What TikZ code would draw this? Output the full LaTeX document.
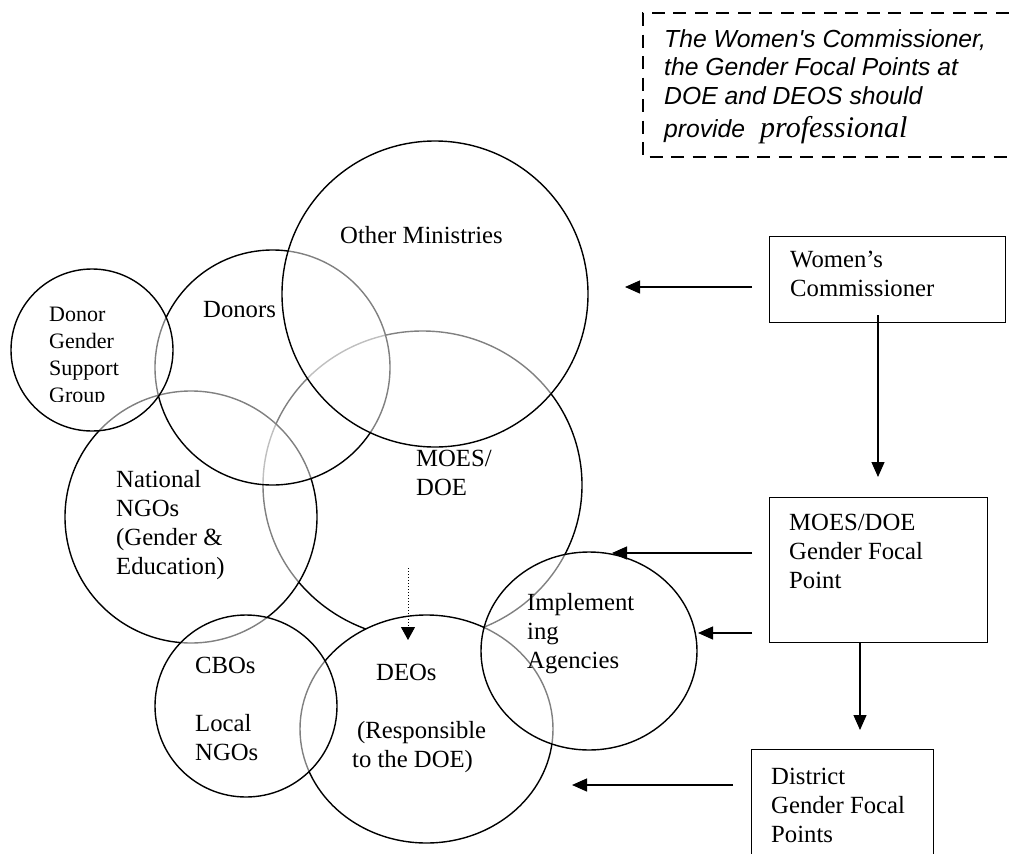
\documentclass[tikz,border=0pt]{standalone}
\usepackage{fontspec}
\setmainfont{Liberation Serif}
\newfontfamily\arialfont{Liberation Sans}
\usetikzlibrary{arrows.meta}
\newcommand{\apos}{\symbol{39}}
\begin{document}
\begin{tikzpicture}[x=1pt,y=-1pt,
  ring/.style={draw=black,line width=1.4pt,fill=white,fill opacity=0.5},
  solidring/.style={draw=black,line width=1.4pt,fill=white},
  lbl/.style={anchor=north west,inner sep=0pt,align=left,font=\fontsize{24.7}{29}\selectfont},
  smalllbl/.style={anchor=north west,inner sep=0pt,align=left,font=\fontsize{22}{27}\selectfont},
  notelbl/.style={anchor=north west,inner sep=0pt,align=left,font=\arialfont\itshape\fontsize{24.7}{28.5}\selectfont},
  boxstyle/.style={draw=black,line width=1.3pt,inner sep=0pt,anchor=north west},
  arr/.style={line width=1.3pt,-{Triangle[length=15pt,width=13pt]}},
  dotarr/.style={line width=1pt,dotted,-{Triangle[length=13pt,width=14pt]}},
  notebox/.style={line width=1.3pt,dash pattern=on 13pt off 8.5pt}
]
\useasboundingbox (0,0) rectangle (1012,854);

% circles, bottom to top
\draw[solidring] (422.5,485) ellipse [x radius=159.5pt, y radius=154pt];   % MOES/DOE
\draw[solidring] (426.5,729) ellipse [x radius=126.5pt, y radius=114pt];   % DEOs
\draw[ring] (191,517) circle [radius=126pt];                               % National NGOs
\draw[ring] (272.5,367.5) circle [radius=117.5pt];                         % Donors
\draw[ring] (435,294) circle [radius=153pt];                               % Other Ministries
\draw[ring] (92,350) circle [radius=81pt];                                 % Donor Gender Support Group
\draw[ring] (246,706) circle [radius=91pt];                                % CBOs
\draw[ring] (589,651) ellipse [x radius=108pt, y radius=99pt];             % Implementing Agencies

% note box (dashed)
\draw[notebox] (1030,13) -- (643,13) -- (643,157) -- (1030,157);
\node[notelbl] (note) at (664,27) {\strut The Women\apos s Commissioner,\\ the Gender Focal Points at\\ DOE and DEOS should\\[4.5pt] provide\hspace*{15pt}{\rmfamily\itshape\fontsize{30}{34}\selectfont professional}};

% boxes
\node[boxstyle,minimum width=236pt,minimum height=86pt] (wcbox) at (769,236) {};
\node[boxstyle,minimum width=218pt,minimum height=145pt] (gfpbox) at (769,497) {};
\node[boxstyle,minimum width=182pt,minimum height=130pt] (dgfpbox) at (751,749) {};

\node[lbl] (wctext) at (790,246.7) {\strut Women\apos s\\ Commissioner};
\node[lbl] (gfptext) at (789,509.7) {\strut MOES/DOE\\ Gender Focal\\ Point};
\node[lbl] (dgfptext) at (771,763.7) {\strut District\\ Gender Focal\\ Points};

% arrow end points
\coordinate (a1s) at (752,287);  \coordinate (a1e) at (625,287);
\coordinate (a2s) at (752,553);  \coordinate (a2e) at (612,553);
\coordinate (a3s) at (752,633);  \coordinate (a3e) at (698,633);
\coordinate (a4s) at (733,785);  \coordinate (a4e) at (572,785);
\coordinate (v1s) at (878,315);  \coordinate (v1e) at (878,477);
\coordinate (v2s) at (860,642);  \coordinate (v2e) at (860,730);
\coordinate (d1s) at (408,568);  \coordinate (d1e) at (408,640);

\draw[arr] (a1s) -- (a1e);
\draw[arr] (a2s) -- (a2e);
\draw[arr] (a3s) -- (a3e);
\draw[arr] (a4s) -- (a4e);
\draw[arr] (v1s) -- (v1e);
\draw[arr] (v2s) -- (v2e);
\draw[dotarr] (d1s) -- (d1e);

% circle labels
\node[lbl] (om) at (340,222.7) {\strut Other Ministries};
\node[lbl] (donors) at (203,296.7) {\strut Donors};
\begin{scope}
  \clip (0,0) rectangle (200,401);
  \node[smalllbl] (dgsg) at (49,302.1) {\strut Donor\\ Gender\\ Support\\ Group};
\end{scope}
\node[lbl] (ngo) at (116,466.7) {\strut National\\ NGOs\\ (Gender \&\\ Education)};
\node[lbl] (moes) at (416,445.7) {\strut MOES/\\ DOE};
\node[lbl] (cbo) at (195,652.7) {\strut CBOs\\ \\ Local\\ NGOs};
\node[lbl] (deo) at (352,659.7) {\strut\hspace*{24pt}DEOs\\ \\ \hspace*{5pt}(Responsible\\ to the DOE)};
\node[lbl] (impl) at (527,589.7) {\strut Implement\\ ing\\ Agencies};
\end{tikzpicture}
\end{document}
